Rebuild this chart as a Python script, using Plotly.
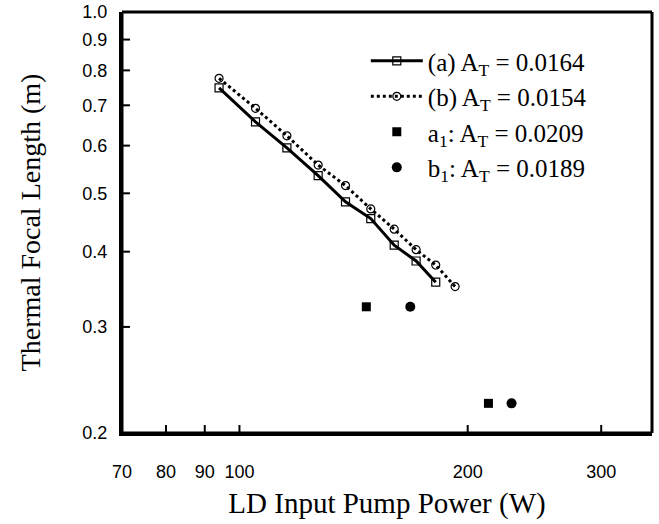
import plotly.graph_objects as go

# LD input pump power (W) and thermal focal length (m)
power_a = [94, 105, 115.5, 127, 138, 149, 160, 171, 181.5]
focal_a = [0.748, 0.657, 0.595, 0.535, 0.484, 0.454, 0.410, 0.386, 0.356]

power_b = [94, 105, 115.5, 127, 138, 149, 160, 171, 181.5, 192.5]
focal_b = [0.776, 0.692, 0.623, 0.557, 0.515, 0.471, 0.436, 0.403, 0.380, 0.350]

power_a1 = [147, 213]
focal_a1 = [0.324, 0.224]

power_b1 = [168, 228.5]
focal_b1 = [0.324, 0.224]

x_ticks = [70, 80, 90, 100, 200, 300]
y_ticks = [0.2, 0.3, 0.4, 0.5, 0.6, 0.7, 0.8, 0.9, 1.0]

serif = "Liberation Serif, Times New Roman, serif"
sans = "Liberation Sans, Arial, sans-serif"

fig = go.Figure()

fig.add_trace(go.Scatter(
    x=power_a, y=focal_a,
    mode="lines+markers",
    name="(a) A<sub>T</sub> = 0.0164",
    line=dict(color="black", width=3),
    marker=dict(symbol="square-open", size=8, color="black", line=dict(width=1.2)),
))

fig.add_trace(go.Scatter(
    x=power_b, y=focal_b,
    mode="lines+markers",
    name="(b) A<sub>T</sub> = 0.0154",
    line=dict(color="black", width=3, dash="dot"),
    marker=dict(symbol="circle-open", size=8, color="black", line=dict(width=1.2)),
))

fig.add_trace(go.Scatter(
    x=power_a1, y=focal_a1,
    mode="markers",
    name="a<sub>1</sub>: A<sub>T</sub> = 0.0209",
    marker=dict(symbol="square", size=9, color="black"),
))

fig.add_trace(go.Scatter(
    x=power_b1, y=focal_b1,
    mode="markers",
    name="b<sub>1</sub>: A<sub>T</sub> = 0.0189",
    marker=dict(symbol="circle", size=10, color="black"),
))

# plot frame, one line per side
frame = dict(color="black", width=3)
fig.add_shape(type="line", xref="paper", yref="paper", x0=0, x1=1, y0=1, y1=1, line=frame, layer="above")
fig.add_shape(type="line", xref="paper", yref="paper", x0=1, x1=1, y0=0, y1=1, line=frame, layer="above")
fig.add_shape(type="line", xref="paper", yref="paper", x0=0, x1=1, y0=0, y1=0, line=frame, layer="above")
fig.add_shape(type="line", xref="paper", yref="paper", x0=0, x1=0, y0=0, y1=1, line=frame, layer="above")

# inside tick marks on the bottom and left edges
for v in x_ticks:
    fig.add_shape(type="line", xref="x", yref="y domain", x0=v, x1=v, y0=0, y1=0.019,
                  line=dict(color="black", width=2), layer="above")
for v in y_ticks:
    fig.add_shape(type="line", xref="x domain", yref="y", x0=0, x1=0.015, y0=v, y1=v,
                  line=dict(color="black", width=2), layer="above")

fig.update_layout(
    width=659,
    height=524,
    margin=dict(l=122, r=7, t=12, b=91, autoexpand=False),
    paper_bgcolor="white",
    plot_bgcolor="white",
    showlegend=True,
    legend=dict(
        x=0.46, y=0.938,
        xanchor="left", yanchor="top",
        font=dict(family=serif, size=25, color="black"),
        bgcolor="rgba(0,0,0,0)",
        itemwidth=52,
        tracegroupgap=0,
    ),
)

fig.update_xaxes(
    type="log",
    range=[1.8451, 2.5441],
    tickvals=x_ticks,
    ticktext=[str(v) for v in x_ticks],
    ticks="",
    showline=True, linewidth=3, linecolor="black",
    showgrid=False, zeroline=False,
    tickfont=dict(family=sans, size=18, color="black"),
    ticklabelstandoff=20,
    automargin=False,
    title=dict(text="LD Input Pump Power (W)", font=dict(family=serif, size=29, color="black"), standoff=13),
)

fig.update_yaxes(
    type="log",
    range=[-0.699, 0],
    tickvals=y_ticks,
    ticktext=["%.1f" % v for v in y_ticks],
    ticks="",
    showline=True, linewidth=3, linecolor="black",
    showgrid=False, zeroline=False,
    tickfont=dict(family=sans, size=18, color="black"),
    ticklabelstandoff=8,
    automargin=False,
    title=dict(text="Thermal Focal Length (m)", font=dict(family=serif, size=28, color="black"), standoff=34),
)

# the page is photographed at exactly the figure size, so drop the default body margin
fig.write_html("out.html", config={"displayModeBar": False},
               post_script="document.body.style.margin='0';")
